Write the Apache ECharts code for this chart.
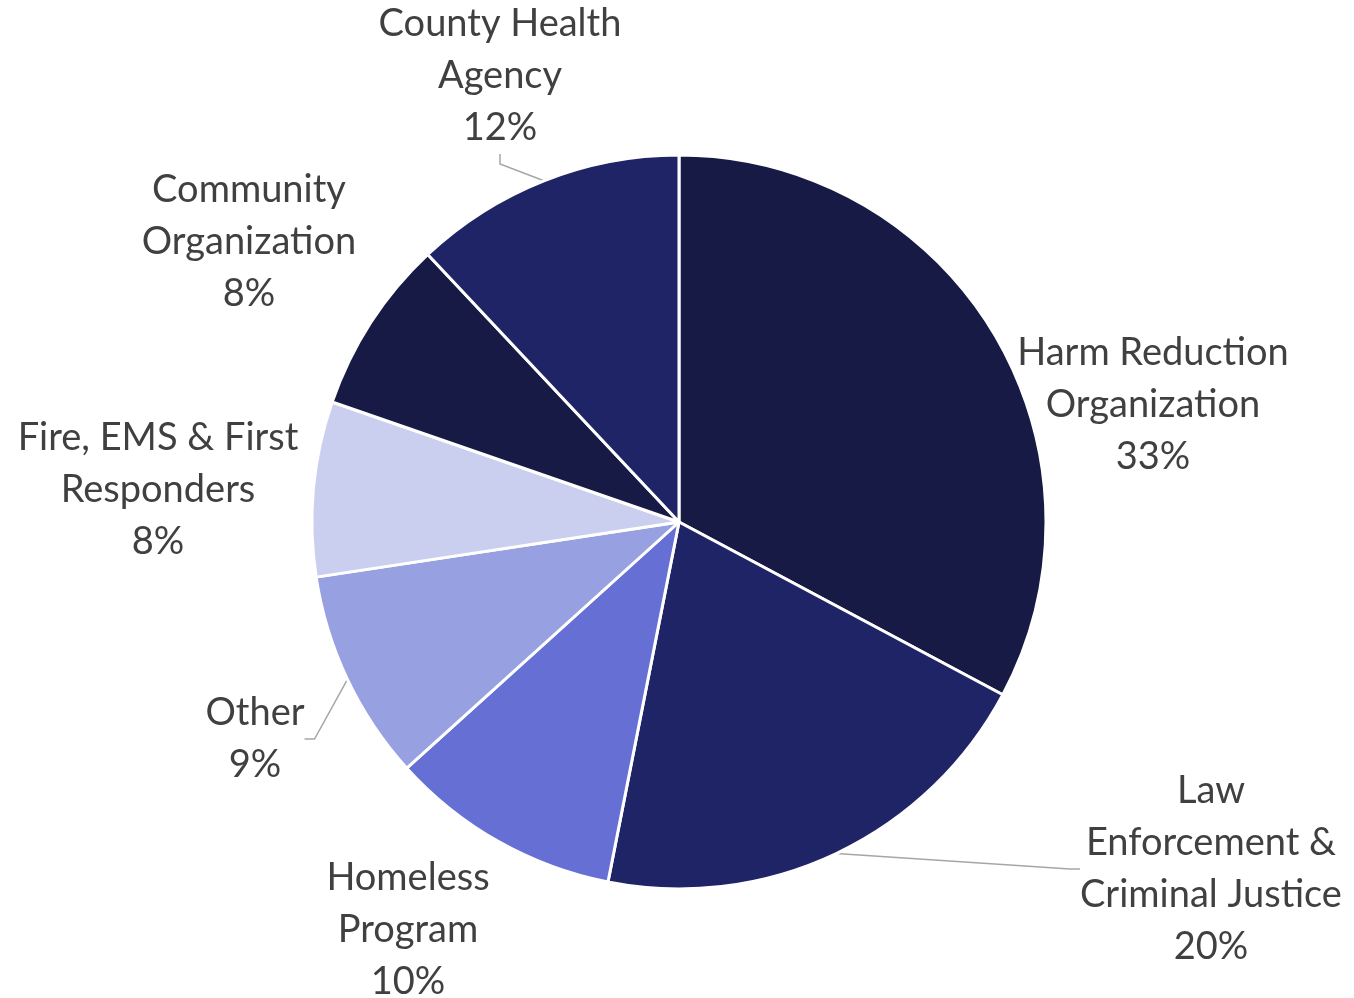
<!DOCTYPE html>
<html>
<head>
<meta charset="utf-8">
<script src="https://cdn.jsdelivr.net/npm/echarts@6/dist/echarts.min.js"></script>
<style>
  html, body { margin: 0; padding: 0; background: #fff; }
  #chart { width: 1354px; height: 998px; }
</style>
</head>
<body>
<div id="chart"></div>
<script>
// slices, clockwise from 12 o'clock (shares)
const categories = [
  'Harm Reduction\nOrganization',
  'Law\nEnforcement &\nCriminal Justice',
  'Homeless\nProgram',
  'Other',
  'Fire, EMS & First\nResponders',
  'Community\nOrganization',
  'County Health\nAgency'
]
const shares = [32.8, 20.3, 10.2, 9.3, 7.7, 7.7, 12.0]
const sliceColors = ['#161a45', '#1f2466', '#6670d4', '#97a0e0', '#cbcfef', '#161a45', '#1f2466']

// where each label block sits (centre of text), Excel-style best fit
const labelSpots = [
  [1153, 405], [1211, 869], [408, 930], [255, 739], [158, 490], [249, 242], [500, 76]
]
const withLine = [false, true, false, true, false, false, true]

const chart = echarts.init(document.getElementById('chart'))

const option = {
  animation: false,
  series: [{
    type: 'pie',
    center: [679, 522],
    radius: 367,
    startAngle: 90,
    clockwise: true,
    data: categories.map((name, i) => ({
      name,
      value: shares[i],
      itemStyle: { color: sliceColors[i] },
      labelLine: { show: withLine[i] }
    })),
    itemStyle: { borderColor: '#fff', borderWidth: 3 },
    label: {
      show: true,
      position: 'outside',
      color: '#404040',
      fontFamily: 'Lato',
      fontSize: 38,
      lineHeight: 52,
      align: 'center',
      formatter: (p) => `${p.name}\n${Math.round(p.percent)}%`
    },
    labelLine: {
      lineStyle: { color: '#a6a6a6', width: 1.5 },
      length: 10,
      length2: 10
    },
    labelLayout: (params) => {
      const spot = labelSpots[params.dataIndex]
      return {
        x: spot[0],
        y: spot[1],
        align: 'center',
        verticalAlign: 'middle'
      }
    }
  }]
}

chart.setOption(option)
</script>
</body>
</html>
